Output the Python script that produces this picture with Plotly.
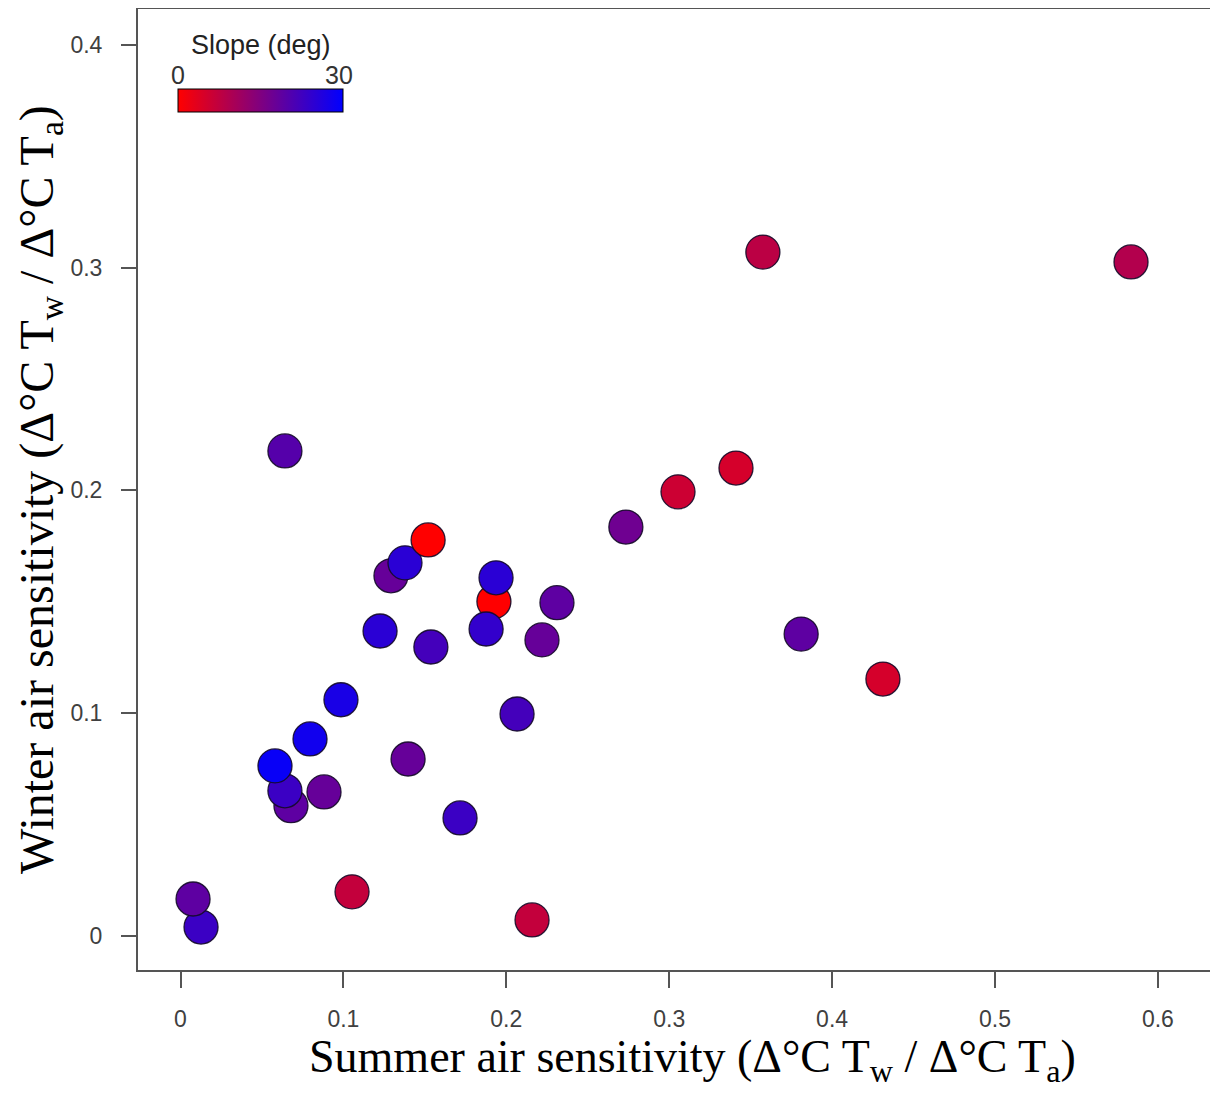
import plotly.graph_objects as go

# Data
summer = [0.0126, 0.0077, 0.2158, 0.1053, 0.1716, 0.1397, 0.0881, 0.0678, 0.0641,
          0.0580, 0.0795, 0.2066, 0.0985, 0.4312, 0.3810, 0.2219, 0.1537, 0.1225,
          0.2311, 0.1924, 0.1876, 0.1937, 0.1292, 0.1378, 0.1520, 0.2734, 0.3410,
          0.3054, 0.0641, 0.3575, 0.5835]
winter = [0.0038, 0.0164, 0.0070, 0.0196, 0.0528, 0.0793, 0.0645, 0.0583, 0.0650,
          0.0762, 0.0883, 0.0995, 0.1059, 0.1152, 0.1354, 0.1328, 0.1296, 0.1368,
          0.1495, 0.1500, 0.1377, 0.1607, 0.1616, 0.1674, 0.1777, 0.1835, 0.2100,
          0.1993, 0.2177, 0.3070, 0.3026]
slope = [23, 19, 7, 7, 23, 18, 18, 19, 23,
         29, 28, 22, 27, 5, 19, 18, 22, 25,
         19, 0, 24, 25, 18, 25, 0, 17, 5,
         6, 20, 8, 9]

x_ticks = [0, 0.1, 0.2, 0.3, 0.4, 0.5, 0.6]
y_ticks = [0, 0.1, 0.2, 0.3, 0.4]
slope_range = [0, 30]

# page has an 8px body margin; figure is sized to reach the window edge
OFF = 8
W, H = 1218 - OFF, 1093 - OFF
PL, PT, PB, PR = 138, 9, 970, 1218          # plot box in page pixels
L, T, B, R = PL - OFF, PT - OFF, (1093 - PB), 0

def px_x(p):
    return (p - PL) / (PR - PL)

def px_y(p):
    return (PB - p) / (PB - PT)

fig = go.Figure()
fig.add_trace(go.Scatter(
    x=summer, y=winter, mode="markers",
    marker=dict(
        size=34,
        color=slope,
        cmin=slope_range[0], cmax=slope_range[1],
        colorscale=[[0, "rgb(255,0,0)"], [1, "rgb(0,0,255)"]],
        line=dict(color="rgba(20,10,40,0.9)", width=1.3),
        showscale=True,
        colorbar=dict(
            orientation="h",
            lenmode="pixels", len=165,
            thickness=23,
            x=px_x(178), xanchor="left",
            y=px_y(100.5), yanchor="middle",
            xpad=0, ypad=0,
            outlinecolor="black", outlinewidth=1,
            showticklabels=False, ticks="",
        ),
    ),
    showlegend=False,
))

tickfont = dict(family="Arial, Liberation Sans, sans-serif", size=23, color="#404040")
serif = dict(family="Times New Roman, Liberation Serif, serif", size=46, color="black")

fig.update_layout(
    width=W, height=H,
    margin=dict(l=L, r=R, t=T, b=B, pad=0),
    paper_bgcolor="white", plot_bgcolor="white",
    xaxis=dict(
        range=[(PL - 180.5) / 1629, (PR - 180.5) / 1629],
        tickvals=x_ticks, ticktext=[f"{v:g}" for v in x_ticks],
        showgrid=False, zeroline=False,
        showline=True, linecolor="#555555", linewidth=2, mirror=True,
        ticks="outside", ticklen=16, tickwidth=2, tickcolor="#555555",
        tickfont=tickfont, ticklabelstandoff=11,
    ),
    yaxis=dict(
        range=[(935.5 - PB) / 2226, (935.5 - PT) / 2226],
        tickvals=y_ticks, ticktext=[f"{v:g}" for v in y_ticks],
        showgrid=False, zeroline=False,
        showline=True, linecolor="#555555", linewidth=2, mirror=False,
        ticks="outside", ticklen=15, tickwidth=2, tickcolor="#555555",
        tickfont=tickfont, ticklabelstandoff=14,
    ),
)

ann = []
ann.append(dict(
    text="Summer air sensitivity (Δ°C T<sub>w</sub> / Δ°C T<sub>a</sub>)",
    xref="paper", yref="paper", x=px_x(692), y=px_y(1060),
    xanchor="center", yanchor="middle", showarrow=False, font=serif,
))
ann.append(dict(
    text="Winter air sensitivity (Δ°C T<sub>w</sub> / Δ°C T<sub>a</sub>)",
    xref="paper", yref="paper", x=px_x(40), y=px_y(490),
    xanchor="center", yanchor="middle", textangle=-90, showarrow=False,
    font=dict(family=serif["family"], size=48, color="black"),
))
labfont = dict(family="Arial, Liberation Sans, sans-serif", size=27, color="#222222")
ann.append(dict(
    text="Slope (deg)", xref="paper", yref="paper",
    x=px_x(261), y=px_y(45),
    xanchor="center", yanchor="middle", showarrow=False, font=labfont,
))
cbfont = dict(family="Arial, Liberation Sans, sans-serif", size=25, color="#333333")
for v, p in zip(slope_range, [178, 339]):
    ann.append(dict(
        text=str(v), xref="paper", yref="paper",
        x=px_x(p), y=px_y(75),
        xanchor="center", yanchor="middle", showarrow=False, font=cbfont,
    ))
fig.update_layout(annotations=ann)

fig.write_html("out.html")
